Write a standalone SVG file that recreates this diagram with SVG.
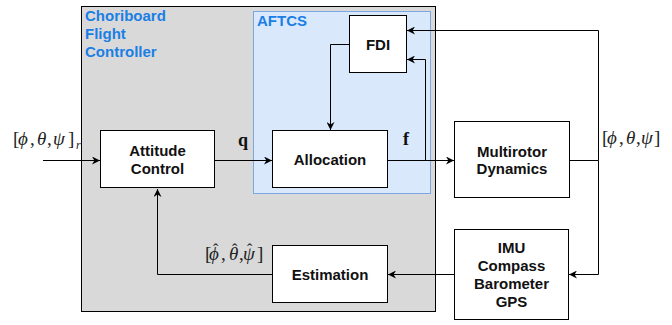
<svg xmlns="http://www.w3.org/2000/svg" width="672" height="325" viewBox="0 0 672 325">
<style>
.box{fill:#ffffff;stroke:#000000;stroke-width:1}
.lbl{font-family:"Liberation Sans",Arial,sans-serif;font-weight:bold;font-size:15px;fill:#111111;text-anchor:middle}
.blue{font-family:"Liberation Sans",Arial,sans-serif;font-weight:bold;font-size:15px;fill:#1a7fe5}
.math{font-family:"Liberation Serif","DejaVu Serif",serif;font-size:19px;fill:#222222}
.it{font-style:italic}
.bf{font-family:"Liberation Serif","DejaVu Serif",serif;font-size:18px;font-weight:bold;fill:#111111}
.con{fill:none;stroke:#000000;stroke-width:1}
</style>
<defs>
<marker id="arr" viewBox="0 0 10 10" refX="10" refY="5" markerWidth="8" markerHeight="8" markerUnits="userSpaceOnUse" orient="auto">
<path d="M0,0 L10,5 L0,10 L3,5 Z" fill="#000000"/>
</marker>
</defs>
<g id="flight-controller">
<rect x="81.5" y="6.5" width="354" height="305" fill="#d9d9d9" stroke="#000000" stroke-width="1"/>
<text class="blue" x="85" y="21">Choriboard</text>
<text class="blue" x="85" y="39">Flight</text>
<text class="blue" x="85" y="57">Controller</text>
</g>
<g id="aftcs">
<rect x="253.5" y="11.5" width="177" height="182" fill="#dae8fc" stroke="#7ea6e0" stroke-width="1"/>
<text class="blue" x="257" y="26">AFTCS</text>
</g>
<g id="connectors">
<path class="con" d="M43,160.5 H100" marker-end="url(#arr)"/>
<path class="con" d="M215,160.5 H272" marker-end="url(#arr)"/>
<path class="con" d="M388,160.5 H454" marker-end="url(#arr)"/>
<path class="con" d="M425.5,160.5 V59.5 H407" marker-end="url(#arr)"/>
<path class="con" d="M349,44.5 H330.5 V130" marker-end="url(#arr)"/>
<path class="con" d="M570,160.5 H598.5"/>
<path class="con" d="M598.5,160.5 V30.5 H407" marker-end="url(#arr)"/>
<path class="con" d="M598.5,160.5 V274.5 H569" marker-end="url(#arr)"/>
<path class="con" d="M454,274.5 H388" marker-end="url(#arr)"/>
<path class="con" d="M272,274.5 H157.5 V189" marker-end="url(#arr)"/>
</g>
<g id="fdi">
<rect class="box" x="349.5" y="15.5" width="57" height="57"/>
<text class="lbl" x="378" y="50">FDI</text>
</g>
<g id="allocation">
<rect class="box" x="272.5" y="130.5" width="115" height="57"/>
<text class="lbl" x="330" y="165">Allocation</text>
</g>
<g id="attitude-control">
<rect class="box" x="100.5" y="130.5" width="114" height="57"/>
<text class="lbl" x="157.5" y="156">Attitude</text>
<text class="lbl" x="157.5" y="174">Control</text>
</g>
<g id="multirotor-dynamics">
<rect class="box" x="454.5" y="121.5" width="115" height="76"/>
<text class="lbl" x="512" y="156.5">Multirotor</text>
<text class="lbl" x="512" y="174">Dynamics</text>
</g>
<g id="estimation">
<rect class="box" x="272.5" y="245.5" width="115" height="57"/>
<text class="lbl" x="330" y="279.5">Estimation</text>
</g>
<g id="sensors">
<rect class="box" x="454.5" y="229.5" width="114" height="90"/>
<text class="lbl" x="511.5" y="252.5">IMU</text>
<text class="lbl" x="511.5" y="270.5">Compass</text>
<text class="lbl" x="511.5" y="288.5">Barometer</text>
<text class="lbl" x="511.5" y="306.5">GPS</text>
</g>
<g id="labels">
<text class="math" y="145"><tspan x="13">[</tspan><tspan class="it" x="18">ϕ</tspan><tspan x="30">,</tspan><tspan class="it" x="37">θ</tspan><tspan x="47">,</tspan><tspan class="it" x="53">ψ</tspan><tspan x="68">]</tspan><tspan class="it" x="76" y="149" font-size="12">r</tspan></text>
<text class="bf" x="238" y="146">q</text>
<text class="bf" x="403" y="145">f</text>
<text class="math" y="144"><tspan x="602">[</tspan><tspan class="it" x="607">ϕ</tspan><tspan x="619">,</tspan><tspan class="it" x="626">θ</tspan><tspan x="636">,</tspan><tspan class="it" x="641">ψ</tspan><tspan x="654">]</tspan></text>
<text class="math" y="260"><tspan x="205">[</tspan><tspan class="it" x="209">ϕ</tspan><tspan x="221">,</tspan><tspan class="it" x="229">θ</tspan><tspan x="239">,</tspan><tspan class="it" x="243">ψ</tspan><tspan x="257">]</tspan><tspan x="213" y="255" font-size="16">ˆ</tspan><tspan x="232" y="255" font-size="16">ˆ</tspan><tspan x="247" y="255" font-size="16">ˆ</tspan></text>
</g>
</svg>
